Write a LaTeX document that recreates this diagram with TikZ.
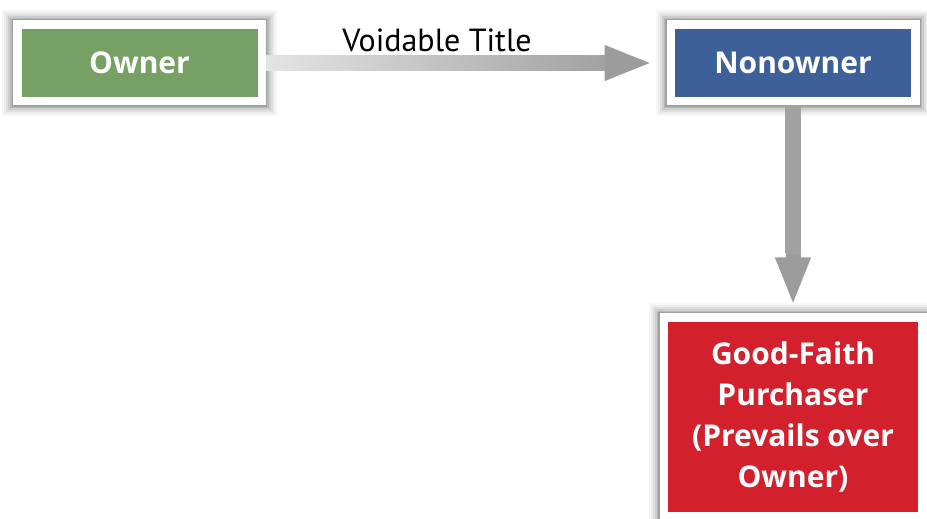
\documentclass[tikz,border=0pt]{standalone}
\usepackage{fontspec}
\setmainfont{PT Sans}
\newfontfamily\boxfont{Open Sans}
\usepackage{xcolor}
\usepackage{tikz}
\usetikzlibrary{arrows.meta,positioning,calc}

\definecolor{ownergreen}{HTML}{76A064}
\definecolor{nonblue}{HTML}{3E6098}
\definecolor{buyerred}{HTML}{D3202D}
\definecolor{shaftlight}{HTML}{E4E4E4}
\definecolor{shaftdark}{HTML}{A2A2A2}
\definecolor{headgray}{HTML}{9C9C9C}

\tikzset{
  boxnode/.style={draw=white, line width=8.5pt, text=white, inner sep=0pt,
    align=center, font=\boxfont\fontsize{30}{40.7}\selectfont\bfseries,
    preaction={draw=black, line width=30pt, opacity=0.03},
    preaction={draw=black, line width=26pt, opacity=0.04},
    preaction={draw=black, line width=22pt, opacity=0.06},
    preaction={draw=black, line width=18pt, opacity=0.08},
    preaction={draw=black, line width=14pt, opacity=0.10},
    preaction={draw=black, line width=11pt, opacity=0.12}},
  headline/.style={line width=15pt, draw=headgray,
    -{Triangle[width=32pt,length=48pt]}},
}

\begin{document}
\begin{tikzpicture}[x=1pt,y=1pt]
        \useasboundingbox[fill=white] (0,0) rectangle (927,519);
        \node[boxnode, fill=ownergreen, minimum width=244.5pt, minimum height=76.5pt] (owner) at (139.5,456) {Owner};
        \node[boxnode, fill=nonblue, minimum width=244.5pt, minimum height=76.5pt] (non) at (793,456) {Nonowner};
        \node[boxnode, fill=buyerred, minimum width=258.5pt, minimum height=198.5pt] (buyer) at (793,102) {Good-Faith\\Purchaser\\(Prevails over\\Owner)};
        \node[font=\fontsize{32}{36}\selectfont] (vt) at (437,479) {Voidable Title};
        % arrows
        \draw[headline] (owner.east) -- ([xshift=-14pt]non.west);
        \shade[left color=shaftlight, right color=shaftdark] ([yshift=7.5pt]owner.east) rectangle ([xshift=-62pt,yshift=-7.5pt]non.west);
        \draw[headline] (non.south) -- ([yshift=8pt]buyer.north);
        \shade[top color=shaftdark, middle color=shaftlight!80!shaftdark, bottom color=shaftdark] ([xshift=-7.5pt]non.south) rectangle ([xshift=7.5pt,yshift=60pt]buyer.north);
      \end{tikzpicture}
\end{document}
